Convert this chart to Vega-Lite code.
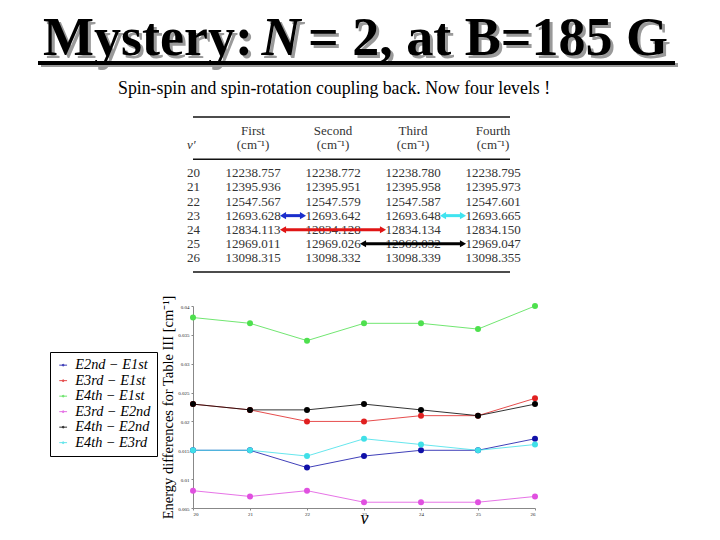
{
  "$schema": "https://vega.github.io/schema/vega-lite/v6.json",
  "autosize": {"type": "none"},
  "padding": {"left": 193, "top": 0, "right": 527, "bottom": 540},
  "background": "white",
  "bounds": "flush",
  "spacing": 34,
  "resolve": {"scale": {"color": "independent", "size": "independent"}, "legend": {"color": "independent", "size": "independent"}},
  "config": {"view": {"stroke": null}, "font": "Liberation Serif"},
  "datasets": {
    "header": [
      {"line": "title", "part": "a", "text": "Mystery:"},
      {"line": "title", "part": "n", "text": "N"},
      {"line": "title", "part": "c", "text": "= 2, at B=185 G"},
      {"line": "sub", "part": "s", "text": "Spin-spin and spin-rotation coupling back. Now four levels !"}
    ],
    "tbl": [
      {"row": "h1", "col": "First", "val": "First"},
      {"row": "h1", "col": "Second", "val": "Second"},
      {"row": "h1", "col": "Third", "val": "Third"},
      {"row": "h1", "col": "Fourth", "val": "Fourth"},
      {"row": "h2", "col": "v", "val": "v′"},
      {"row": "h2", "col": "First", "val": "(cm⁻¹)"},
      {"row": "h2", "col": "Second", "val": "(cm⁻¹)"},
      {"row": "h2", "col": "Third", "val": "(cm⁻¹)"},
      {"row": "h2", "col": "Fourth", "val": "(cm⁻¹)"},
      {"row": "20", "col": "v", "val": "20"},
      {"row": "20", "col": "First", "val": "12238.757"},
      {"row": "20", "col": "Second", "val": "12238.772"},
      {"row": "20", "col": "Third", "val": "12238.780"},
      {"row": "20", "col": "Fourth", "val": "12238.795"},
      {"row": "21", "col": "v", "val": "21"},
      {"row": "21", "col": "First", "val": "12395.936"},
      {"row": "21", "col": "Second", "val": "12395.951"},
      {"row": "21", "col": "Third", "val": "12395.958"},
      {"row": "21", "col": "Fourth", "val": "12395.973"},
      {"row": "22", "col": "v", "val": "22"},
      {"row": "22", "col": "First", "val": "12547.567"},
      {"row": "22", "col": "Second", "val": "12547.579"},
      {"row": "22", "col": "Third", "val": "12547.587"},
      {"row": "22", "col": "Fourth", "val": "12547.601"},
      {"row": "23", "col": "v", "val": "23"},
      {"row": "23", "col": "First", "val": "12693.628"},
      {"row": "23", "col": "Second", "val": "12693.642"},
      {"row": "23", "col": "Third", "val": "12693.648"},
      {"row": "23", "col": "Fourth", "val": "12693.665"},
      {"row": "24", "col": "v", "val": "24"},
      {"row": "24", "col": "First", "val": "12834.113"},
      {"row": "24", "col": "Second", "val": "12834.128"},
      {"row": "24", "col": "Third", "val": "12834.134"},
      {"row": "24", "col": "Fourth", "val": "12834.150"},
      {"row": "25", "col": "v", "val": "25"},
      {"row": "25", "col": "First", "val": "12969.011"},
      {"row": "25", "col": "Second", "val": "12969.026"},
      {"row": "25", "col": "Third", "val": "12969.032"},
      {"row": "25", "col": "Fourth", "val": "12969.047"},
      {"row": "26", "col": "v", "val": "26"},
      {"row": "26", "col": "First", "val": "13098.315"},
      {"row": "26", "col": "Second", "val": "13098.332"},
      {"row": "26", "col": "Third", "val": "13098.339"},
      {"row": "26", "col": "Fourth", "val": "13098.355"}
    ],
    "arrows": [
      {"row": "23", "from": "First", "to": "Second", "c": "b"},
      {"row": "24", "from": "First", "to": "Third", "c": "r"},
      {"row": "25", "from": "Second", "to": "Fourth", "c": "k"},
      {"row": "23", "from": "Third", "to": "Fourth", "c": "c"}
    ],
    "diffs": [
      {"v": 20, "s": "E2nd − E1st", "d": 0.015},
      {"v": 21, "s": "E2nd − E1st", "d": 0.015},
      {"v": 22, "s": "E2nd − E1st", "d": 0.012},
      {"v": 23, "s": "E2nd − E1st", "d": 0.014},
      {"v": 24, "s": "E2nd − E1st", "d": 0.015},
      {"v": 25, "s": "E2nd − E1st", "d": 0.015},
      {"v": 26, "s": "E2nd − E1st", "d": 0.017},
      {"v": 20, "s": "E3rd − E1st", "d": 0.023},
      {"v": 21, "s": "E3rd − E1st", "d": 0.022},
      {"v": 22, "s": "E3rd − E1st", "d": 0.020},
      {"v": 23, "s": "E3rd − E1st", "d": 0.020},
      {"v": 24, "s": "E3rd − E1st", "d": 0.021},
      {"v": 25, "s": "E3rd − E1st", "d": 0.021},
      {"v": 26, "s": "E3rd − E1st", "d": 0.024},
      {"v": 20, "s": "E4th − E1st", "d": 0.038},
      {"v": 21, "s": "E4th − E1st", "d": 0.037},
      {"v": 22, "s": "E4th − E1st", "d": 0.034},
      {"v": 23, "s": "E4th − E1st", "d": 0.037},
      {"v": 24, "s": "E4th − E1st", "d": 0.037},
      {"v": 25, "s": "E4th − E1st", "d": 0.036},
      {"v": 26, "s": "E4th − E1st", "d": 0.040},
      {"v": 20, "s": "E3rd − E2nd", "d": 0.008},
      {"v": 21, "s": "E3rd − E2nd", "d": 0.007},
      {"v": 22, "s": "E3rd − E2nd", "d": 0.008},
      {"v": 23, "s": "E3rd − E2nd", "d": 0.006},
      {"v": 24, "s": "E3rd − E2nd", "d": 0.006},
      {"v": 25, "s": "E3rd − E2nd", "d": 0.006},
      {"v": 26, "s": "E3rd − E2nd", "d": 0.007},
      {"v": 20, "s": "E4th − E2nd", "d": 0.023},
      {"v": 21, "s": "E4th − E2nd", "d": 0.022},
      {"v": 22, "s": "E4th − E2nd", "d": 0.022},
      {"v": 23, "s": "E4th − E2nd", "d": 0.023},
      {"v": 24, "s": "E4th − E2nd", "d": 0.022},
      {"v": 25, "s": "E4th − E2nd", "d": 0.021},
      {"v": 26, "s": "E4th − E2nd", "d": 0.023},
      {"v": 20, "s": "E4th − E3rd", "d": 0.015},
      {"v": 21, "s": "E4th − E3rd", "d": 0.015},
      {"v": 22, "s": "E4th − E3rd", "d": 0.014},
      {"v": 23, "s": "E4th − E3rd", "d": 0.017},
      {"v": 24, "s": "E4th − E3rd", "d": 0.016},
      {"v": 25, "s": "E4th − E3rd", "d": 0.015},
      {"v": 26, "s": "E4th − E3rd", "d": 0.016}
    ]
  },
  "vconcat": [
    {
      "width": 324,
      "height": 83,
      "data": {"name": "header"},
      "encoding": {
        "x": {"field": "line", "type": "nominal", "scale": {"type": "point", "domain": ["sub", "title"], "range": [-75, 162], "padding": 0}, "axis": null},
        "y": {"field": "line", "type": "nominal", "scale": {"type": "point", "domain": ["title", "sub"], "range": [55, 94], "padding": 0}, "axis": null},
        "text": {"field": "text"}
      },
      "layer": [
        {
          "transform": [{"filter": "datum.part === 'a'"}],
          "mark": {"type": "text", "fontSize": 54, "fontWeight": "bold", "font": "Liberation Serif", "color": "#9a9a9a", "align": "center", "baseline": "alphabetic", "dx": -204, "dy": 3}
        },
        {
          "transform": [{"filter": "datum.part === 'n'"}],
          "mark": {"type": "text", "fontSize": 54, "fontWeight": "bold", "fontStyle": "italic", "font": "Liberation Serif", "color": "#9a9a9a", "align": "center", "baseline": "alphabetic", "dx": -71, "dy": 3}
        },
        {
          "transform": [{"filter": "datum.part === 'c'"}],
          "mark": {"type": "text", "fontSize": 54, "fontWeight": "bold", "font": "Liberation Serif", "color": "#9a9a9a", "align": "center", "baseline": "alphabetic", "dx": 136, "dy": 3}
        },
        {
          "transform": [{"filter": "datum.part === 'a'"}],
          "mark": {"type": "text", "fontSize": 54, "fontWeight": "bold", "font": "Liberation Serif", "color": "#000000", "align": "center", "baseline": "alphabetic", "dx": -207}
        },
        {
          "transform": [{"filter": "datum.part === 'n'"}],
          "mark": {"type": "text", "fontSize": 54, "fontWeight": "bold", "fontStyle": "italic", "font": "Liberation Serif", "color": "#000000", "align": "center", "baseline": "alphabetic", "dx": -74}
        },
        {
          "transform": [{"filter": "datum.part === 'c'"}],
          "mark": {"type": "text", "fontSize": 54, "fontWeight": "bold", "font": "Liberation Serif", "color": "#000000", "align": "center", "baseline": "alphabetic", "dx": 133}
        },
        {
          "transform": [{"filter": "datum.part === 'a'"}],
          "mark": {"type": "rule", "color": "#9a9a9a", "strokeWidth": 4, "xOffset": -314, "x2Offset": 323, "yOffset": 10},
          "encoding": {"x": {"datum": "title"}, "x2": {"datum": "title"}, "y": {"datum": "title"}, "text": null}
        },
        {
          "transform": [{"filter": "datum.part === 'a'"}],
          "mark": {"type": "rule", "color": "#000000", "strokeWidth": 4, "xOffset": -317, "x2Offset": 320, "yOffset": 8},
          "encoding": {"x": {"datum": "title"}, "x2": {"datum": "title"}, "y": {"datum": "title"}, "text": null}
        },
        {
          "transform": [{"filter": "datum.line === 'sub'"}],
          "mark": {"type": "text", "fontSize": 17.8, "font": "Liberation Serif", "color": "#000000", "align": "left", "baseline": "alphabetic"}
        }
      ]
    },
    {
      "width": 325,
      "height": 155,
      "layer": [
        {
          "data": {"values": [{"row": "top"}, {"row": "mid"}, {"row": "bot"}]},
          "mark": {"type": "rule", "strokeWidth": 1.3, "color": "#111111", "xOffset": -8},
          "encoding": {
            "y": {"field": "row", "type": "nominal", "scale": {"type": "point", "domain": ["top", "h1", "h2", "mid", "20", "21", "22", "23", "24", "25", "26", "bot"], "range": [0, 155], "padding": 0}, "axis": null}
          }
        },
        {
          "data": {"name": "tbl"},
          "transform": [{"filter": "datum.col !== 'v'"}],
          "mark": {"type": "text", "fontSize": 13, "font": "Liberation Serif", "color": "#333333", "align": "center", "baseline": "middle"},
          "encoding": {
            "x": {"field": "col", "type": "nominal", "scale": {"type": "point", "domain": ["v", "First", "Second", "Third", "Fourth"], "range": [-20, 300], "padding": 0}, "axis": null},
            "y": {"field": "row", "type": "nominal", "scale": {"type": "point", "domain": ["top", "h1", "h2", "mid", "20", "21", "22", "23", "24", "25", "26", "bot"], "range": [0, 155], "padding": 0}, "axis": null},
            "text": {"field": "val"}
          }
        },
        {
          "data": {"name": "tbl"},
          "transform": [{"filter": "datum.col === 'v' && datum.row !== 'h2'"}],
          "mark": {"type": "text", "fontSize": 13, "font": "Liberation Serif", "color": "#333333", "align": "left", "baseline": "middle", "dx": 14},
          "encoding": {
            "x": {"field": "col", "type": "nominal", "scale": {"type": "point", "domain": ["v", "First", "Second", "Third", "Fourth"], "range": [-20, 300], "padding": 0}, "axis": null},
            "y": {"field": "row", "type": "nominal", "scale": {"type": "point", "domain": ["top", "h1", "h2", "mid", "20", "21", "22", "23", "24", "25", "26", "bot"], "range": [0, 155], "padding": 0}, "axis": null},
            "text": {"field": "val"}
          }
        },
        {
          "data": {"name": "tbl"},
          "transform": [{"filter": "datum.col === 'v' && datum.row === 'h2'"}],
          "mark": {"type": "text", "fontSize": 13, "font": "Liberation Serif", "fontStyle": "italic", "color": "#333333", "align": "left", "baseline": "middle", "dx": 14},
          "encoding": {
            "x": {"field": "col", "type": "nominal", "scale": {"type": "point", "domain": ["v", "First", "Second", "Third", "Fourth"], "range": [-20, 300], "padding": 0}, "axis": null},
            "y": {"field": "row", "type": "nominal", "scale": {"type": "point", "domain": ["top", "h1", "h2", "mid", "20", "21", "22", "23", "24", "25", "26", "bot"], "range": [0, 155], "padding": 0}, "axis": null},
            "text": {"field": "val"}
          }
        },
        {
          "data": {"name": "arrows"},
          "mark": {"type": "rule", "strokeWidth": 3, "xOffset": 30, "x2Offset": -30},
          "encoding": {
            "x": {"field": "from", "type": "nominal", "scale": {"type": "point", "domain": ["v", "First", "Second", "Third", "Fourth"], "range": [-20, 300], "padding": 0}, "axis": null},
            "x2": {"field": "to"},
            "y": {"field": "row", "type": "nominal", "scale": {"type": "point", "domain": ["top", "h1", "h2", "mid", "20", "21", "22", "23", "24", "25", "26", "bot"], "range": [0, 155], "padding": 0}, "axis": null},
            "color": {"field": "c", "type": "nominal", "scale": {"domain": ["b", "r", "k", "c"], "range": ["#1a2ecc", "#e01515", "#000000", "#40e4f0"]}, "legend": null}
          }
        },
        {
          "data": {"name": "arrows"},
          "mark": {"type": "point", "shape": "triangle-left", "filled": true, "opacity": 1, "size": 50, "xOffset": 30},
          "encoding": {
            "x": {"field": "from", "type": "nominal", "scale": {"type": "point", "domain": ["v", "First", "Second", "Third", "Fourth"], "range": [-20, 300], "padding": 0}, "axis": null},
            "y": {"field": "row", "type": "nominal", "scale": {"type": "point", "domain": ["top", "h1", "h2", "mid", "20", "21", "22", "23", "24", "25", "26", "bot"], "range": [0, 155], "padding": 0}, "axis": null},
            "color": {"field": "c", "type": "nominal", "scale": {"domain": ["b", "r", "k", "c"], "range": ["#1a2ecc", "#e01515", "#000000", "#40e4f0"]}, "legend": null}
          }
        },
        {
          "data": {"name": "arrows"},
          "mark": {"type": "point", "shape": "triangle-right", "filled": true, "opacity": 1, "size": 50, "xOffset": -30},
          "encoding": {
            "x": {"field": "to", "type": "nominal", "scale": {"type": "point", "domain": ["v", "First", "Second", "Third", "Fourth"], "range": [-20, 300], "padding": 0}, "axis": null},
            "y": {"field": "row", "type": "nominal", "scale": {"type": "point", "domain": ["top", "h1", "h2", "mid", "20", "21", "22", "23", "24", "25", "26", "bot"], "range": [0, 155], "padding": 0}, "axis": null},
            "color": {"field": "c", "type": "nominal", "scale": {"domain": ["b", "r", "k", "c"], "range": ["#1a2ecc", "#e01515", "#000000", "#40e4f0"]}, "legend": null}
          }
        }
      ]
    },
    {
      "width": 342,
      "height": 202,
      "data": {"name": "diffs"},
      "encoding": {
        "x": {
          "field": "v", "type": "quantitative",
          "scale": {"domain": [20, 26], "nice": false, "zero": false},
          "axis": {"values": [20, 21, 22, 23, 24, 25, 26], "title": "v", "titleFont": "Liberation Serif", "titleFontStyle": "italic", "titleFontWeight": "normal", "titleFontSize": 18, "titlePadding": -7, "titleColor": "#000000", "labelFont": "Liberation Serif", "labelFontSize": 5, "labelColor": "#222222", "labelPadding": 1, "domainColor": "#888888", "tickColor": "#888888", "tickSize": 2, "grid": false}
        },
        "y": {
          "field": "d", "type": "quantitative",
          "scale": {"domain": [0.005, 0.04], "nice": false, "zero": false},
          "axis": {"values": [0.005, 0.01, 0.015, 0.02, 0.025, 0.03, 0.035, 0.04], "format": ".3~f", "title": "Energy differences for Table III [cm⁻¹]", "titleFont": "Liberation Serif", "titleFontWeight": "normal", "titleFontSize": 14.5, "titleColor": "#000000", "titlePadding": 2, "labelFont": "Liberation Serif", "labelFontSize": 5, "labelColor": "#222222", "labelPadding": 2, "domainColor": "#888888", "tickColor": "#888888", "tickSize": 2, "grid": false}
        },
        "color": {
          "field": "s", "type": "nominal",
          "scale": {"domain": ["E2nd − E1st", "E3rd − E1st", "E4th − E1st", "E3rd − E2nd", "E4th − E2nd", "E4th − E3rd"], "range": ["#1010a8", "#e02020", "#4ee04e", "#e050e0", "#000000", "#40e0e8"]},
          "legend": {"title": null, "orient": "none", "legendX": -143, "legendY": 46, "symbolType": "M-1.3,0H1.3M-0.3,0A0.3,0.3,0,1,1,0.3,0A0.3,0.3,0,1,1,-0.3,0Z", "symbolSize": 256, "symbolStrokeWidth": 1, "labelFont": "Liberation Serif", "labelFontSize": 14.3, "labelFontStyle": "italic", "labelColor": "#000000", "labelOffset": 5, "strokeColor": "#000000", "fillColor": "#ffffff", "padding": 6, "rowPadding": 0.5}
        }
      },
      "layer": [
        {"mark": {"type": "line", "strokeWidth": 1, "opacity": 0.8}},
        {
          "mark": {"type": "point", "filled": true, "opacity": 1},
          "encoding": {
            "size": {"field": "s", "type": "nominal", "scale": {"domain": ["E2nd − E1st", "E3rd − E1st", "E4th − E1st", "E3rd − E2nd", "E4th − E2nd", "E4th − E3rd"], "range": [36, 36, 12, 12, 16, 14]}, "legend": null}
          }
        }
      ]
    }
  ]
}
